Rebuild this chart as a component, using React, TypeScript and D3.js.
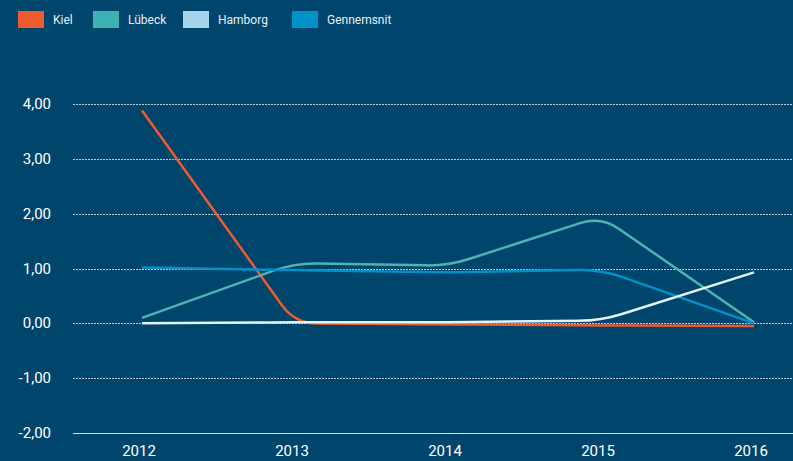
import React, { useEffect, useRef } from "react";
import * as d3 from "d3";

// chart data
const years = ["2012", "2013", "2014", "2015", "2016"];
const kiel = [3.88, 0.0, -0.02, -0.04, -0.05];
const lubeck = [0.1, 1.1, 1.05, 1.95, 0.02];
const hamborg = [0.0, 0.02, 0.02, 0.05, 0.93];
const gennemsnit = [1.02, 0.97, 0.93, 0.98, 0.0];
const yTicks = [4, 3, 2, 1, 0, -1, -2];

const seriesNames = ["Kiel", "Lübeck", "Hamborg", "Gennemsnit"];
const seriesValues = [kiel, lubeck, hamborg, gennemsnit];
const legendColors = ["#f15a2f", "#3eb1b3", "#a5d5ec", "#0091c9"];
const lineColors = ["#f15a2f", "#4db3b3", "#e4f2fa", "#0091c9"];

const W = 793;
const H = 461;

// polyline with rounded corners (quadratic at each inner vertex)
function roundedPath(pts: [number, number][], r: number) {
  const p = d3.path();
  p.moveTo(pts[0][0], pts[0][1]);
  for (let i = 1; i < pts.length - 1; i++) {
    const [x0, y0] = pts[i - 1];
    const [x1, y1] = pts[i];
    const [x2, y2] = pts[i + 1];
    const l1 = Math.hypot(x1 - x0, y1 - y0);
    const l2 = Math.hypot(x2 - x1, y2 - y1);
    const r1 = Math.min(r, l1 / 2);
    const r2 = Math.min(r, l2 / 2);
    p.lineTo(x1 - ((x1 - x0) / l1) * r1, y1 - ((y1 - y0) / l1) * r1);
    p.quadraticCurveTo(x1, y1, x1 + ((x2 - x1) / l2) * r2, y1 + ((y2 - y1) / l2) * r2);
  }
  const last = pts[pts.length - 1];
  p.lineTo(last[0], last[1]);
  return p.toString();
}

export default function App() {
  const ref = useRef<SVGSVGElement>(null);

  useEffect(() => {
    document.body.style.margin = "0";
    const svg = d3.select(ref.current);
    svg.selectAll("*").remove();
    svg.attr("width", W).attr("height", H);

    //Background
    svg.append("rect").attr("width", W).attr("height", H).attr("fill", "#00456b");

    const x = d3.scalePoint<string>().domain(years).range([142, 754]);
    const y = d3.scaleLinear().domain([-2, 4]).range([433, 104]);

    //Grid lines
    svg
      .append("g")
      .selectAll("line")
      .data(yTicks)
      .enter()
      .append("line")
      .attr("x1", 73)
      .attr("x2", W)
      .attr("y1", d => Math.round(y(d)) + 0.5)
      .attr("y2", d => Math.round(y(d)) + 0.5)
      .attr("stroke", d => (d === -2 ? "#c9dbe6" : "#b8cbd8"))
      .attr("stroke-width", 1)
      .attr("stroke-dasharray", d => (d === -2 ? null : "2,1"));

    //Y labels
    svg
      .append("g")
      .selectAll("text")
      .data(yTicks)
      .enter()
      .append("text")
      .attr("x", 51)
      .attr("y", d => y(d) + 5)
      .attr("text-anchor", "end")
      .attr("fill", "#ffffff")
      .attr("font-family", "Roboto, sans-serif")
      .attr("font-size", 15)
      .text(d => d3.format(".2f")(d).replace(".", ",").replace("−", "-"));

    //X labels
    svg
      .append("g")
      .selectAll("text")
      .data(years)
      .enter()
      .append("text")
      .attr("x", d => (x(d) as number) - 3)
      .attr("y", 456)
      .attr("text-anchor", "middle")
      .attr("fill", "#ffffff")
      .attr("font-family", "Roboto, sans-serif")
      .attr("font-size", 15)
      .text(d => d);

    //Lines
    const order = [0, 1, 3, 2];
    order.forEach(i => {
      const pts = seriesValues[i].map(
        (v, j) => [x(years[j]) as number, y(v)] as [number, number]
      );
      svg
        .append("path")
        .attr("d", roundedPath(pts, 22))
        .attr("fill", "none")
        .attr("stroke", lineColors[i])
        .attr("stroke-width", 2.5);
    });

    //Legend
    const legendX = [18, 93, 183, 292];
    const legend = svg
      .append("g")
      .selectAll("g")
      .data(seriesNames)
      .enter()
      .append("g")
      .attr("transform", (_, i) => `translate(${legendX[i]}, 11)`);
    legend
      .append("rect")
      .attr("width", 26)
      .attr("height", 17)
      .attr("fill", (_, i) => legendColors[i]);
    legend
      .append("text")
      .attr("x", 35)
      .attr("y", 13)
      .attr("fill", "#e8eef3")
      .attr("font-family", "Roboto, sans-serif")
      .attr("font-size", 12)
      .text(d => d);
  }, []);

  return <svg ref={ref} style={{ display: "block" }} />;
}
